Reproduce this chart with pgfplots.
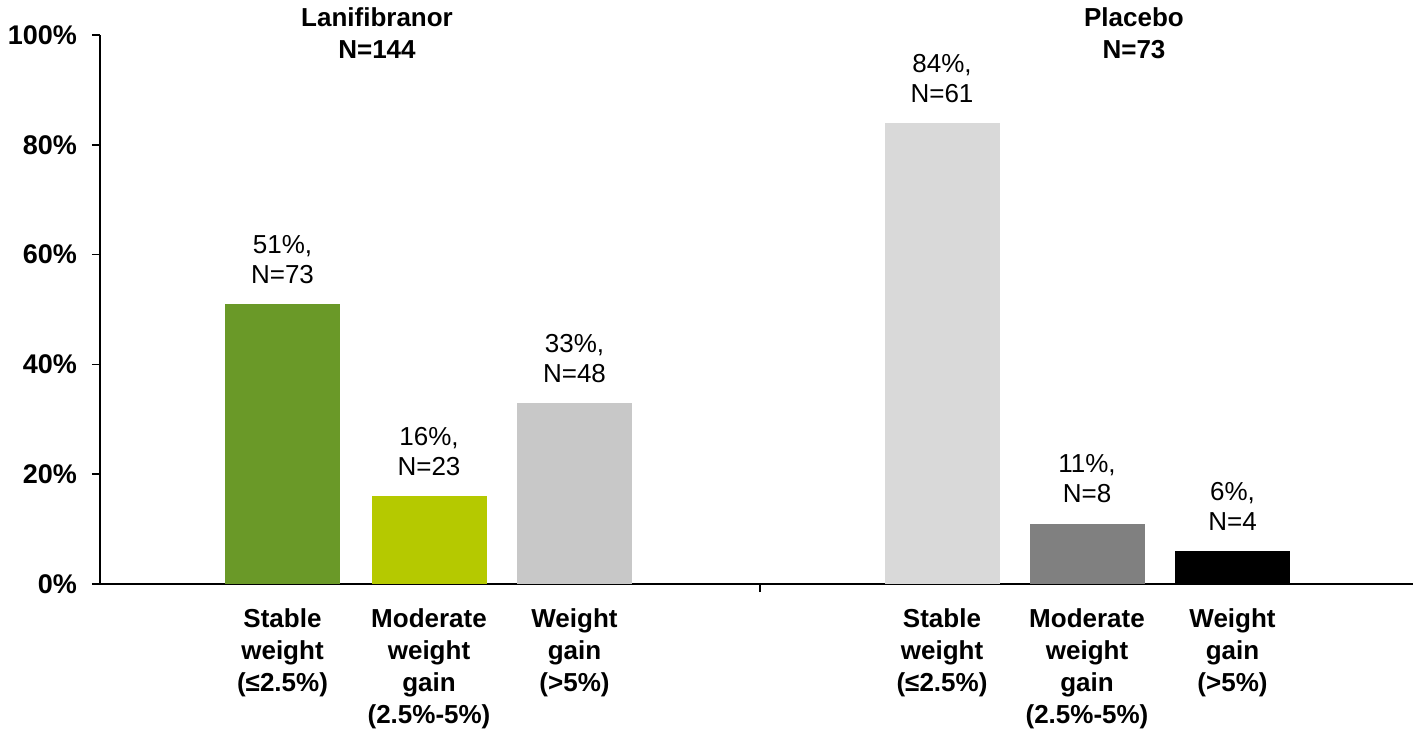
\documentclass[border=0pt]{standalone}
\usepackage{fontspec}
\setmainfont{Liberation Sans}
\usepackage{pgfplots}
\pgfplotsset{compat=1.18}
\definecolor{cGreen}{RGB}{106,153,40}
\definecolor{cLime}{RGB}{181,201,0}
\definecolor{cLgray}{RGB}{200,200,200}
\definecolor{cXgray}{RGB}{217,217,217}
\definecolor{cDgray}{RGB}{128,128,128}
\newcommand{\lab}{\fontsize{13}{15}\selectfont}
\newcommand{\blab}{\fontsize{13}{16}\selectfont\bfseries}
\begin{document}
\begin{tikzpicture}
\begin{axis}[
  scale only axis, width=656.5pt, height=274.5pt,
  xmin=100, xmax=1413, ymin=0, ymax=100,
  axis x line*=bottom, axis y line*=left,
  axis line style={-, line width=0.8pt, black},
  ybar, bar shift=0pt, bar width=115,
  ytick={0,20,...,100},
  yticklabel={\pgfmathprintnumber{\tick}\%},
  /pgf/number format/assume math mode=true,
  yticklabel style={font=\fontsize{13.5}{16}\selectfont\bfseries, xshift=-4pt},
  tick align=outside, major tick length=4pt,
  tick style={black, line width=0.8pt},
  xtick={760}, xticklabels={},
  clip=false,
  nodes near coords,
  every node near coord/.append style={font=\lab, align=center, inner sep=0pt, anchor=south, yshift=10pt},
]
\addplot[fill=cGreen, draw=none, nodes near coords={\pgfmathprintnumber{\pgfplotspointmeta}\%,\\N=73}] coordinates {(282.5,51)};
\addplot[fill=cLime, draw=none, nodes near coords={\pgfmathprintnumber{\pgfplotspointmeta}\%,\\N=23}] coordinates {(429,16)};
\addplot[fill=cLgray, draw=none, nodes near coords={\pgfmathprintnumber{\pgfplotspointmeta}\%,\\N=48}] coordinates {(574.5,33)};
\addplot[fill=cXgray, draw=none, nodes near coords={\pgfmathprintnumber{\pgfplotspointmeta}\%,\\N=61}] coordinates {(942,84)};
\addplot[fill=cDgray, draw=none, nodes near coords={\pgfmathprintnumber{\pgfplotspointmeta}\%,\\N=8}] coordinates {(1087,11)};
\addplot[fill=black, draw=none, nodes near coords={\pgfmathprintnumber{\pgfplotspointmeta}\%,\\N=4}] coordinates {(1232.5,6)};
\coordinate (o) at (rel axis cs:0,0);
\coordinate (t) at (rel axis cs:1,1);
\tikzset{catlab/.style={anchor=north, inner sep=0pt, align=center, font=\blab, yshift=-12pt}}
\node[catlab] at (axis cs:282.5,0) {Stable\\weight\\(≤2.5\%)};
\node[catlab] at (axis cs:429,0) {Moderate\\weight\\gain\\(2.5\%-5\%)};
\node[catlab] at (axis cs:574.5,0) {Weight\\gain\\(>5\%)};
\node[catlab] at (axis cs:942,0) {Stable\\weight\\(≤2.5\%)};
\node[catlab] at (axis cs:1087,0) {Moderate\\weight\\gain\\(2.5\%-5\%)};
\node[catlab] at (axis cs:1232.5,0) {Weight\\gain\\(>5\%)};
\node[anchor=north, inner sep=0pt, align=center, font=\blab, yshift=14pt] at (axis cs:377,100) {Lanifibranor\\N=144};
\node[anchor=north, inner sep=0pt, align=center, font=\blab, yshift=14pt] at (axis cs:1134,100) {Placebo\\N=73};
\end{axis}
\pgfresetboundingbox
\path ([shift={(-50pt,-72.5pt)}]o) rectangle ([yshift=17.5pt]t);
\end{tikzpicture}
\end{document}
